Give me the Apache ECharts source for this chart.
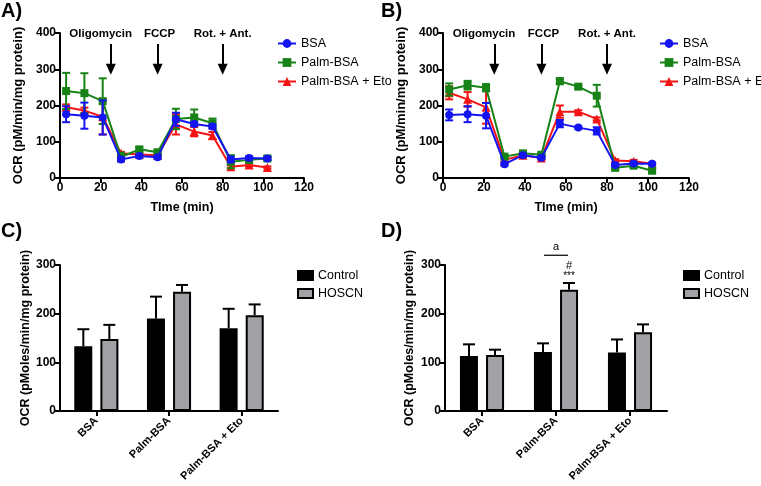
<!DOCTYPE html>
<html><head><meta charset="utf-8">
<script src="https://cdn.jsdelivr.net/npm/echarts@6/dist/echarts.min.js"></script>
<style>html,body{margin:0;padding:0;background:#fff}#c{width:761px;height:486px}</style>
</head><body><div id="c"></div>
<script>
// ---------- DATA ----------
const times = [3, 12, 21, 30, 39, 48, 57, 66, 75, 84, 93, 102];
const seriesNames = ['BSA', 'Palm-BSA', 'Palm-BSA + Eto'];
// Panel A
const aBSA = [176, 172, 167, 51, 61, 57, 162, 149, 142, 51, 55, 54];
const aBSAerr = [22, 36, 47, 5, 4, 4, 18, 6, 6, 8, 5, 4];
const aPalm = [240, 234, 212, 58, 79, 71, 163, 167, 151, 45, 50, 54];
const aPalmErr = [50, 55, 63, 12, 6, 5, 28, 22, 13, 18, 8, 5];
const aEto = [195, 186, 169, 68, 65, 63, 148, 128, 117, 31, 36, 29];
const aEtoErr = [8, 8, 49, 4, 4, 3, 28, 13, 10, 4, 4, 3];
// Panel B
const bBSA = [174, 176, 172, 38, 63, 56, 150, 139, 130, 36, 40, 39];
const bBSAerr = [15, 22, 35, 4, 4, 4, 10, 3, 10, 4, 3, 3];
const bPalm = [244, 256, 249, 59, 68, 64, 267, 252, 227, 28, 34, 20];
const bPalmErr = [17, 12, 10, 4, 3, 3, 8, 4, 30, 4, 4, 4];
const bEto = [235, 217, 195, 50, 63, 55, 183, 183, 163, 48, 46, 39];
const bEtoErr = [18, 20, 45, 4, 4, 4, 17, 4, 4, 4, 4, 3];
// Injections
const injectionNames = ['Oligomycin', 'FCCP', 'Rot. + Ant.'];
const injectionTimes = [25, 48, 80];
const injectionLabelX = [20, 49, 80];
// Bar panels
const barCategories = ['BSA', 'Palm-BSA', 'Palm-BSA + Eto'];
const barNames = ['Control', 'HOSCN'];
const cControl = [133, 190, 170];
const cControlErr = [35, 45, 40];
const cHOSCN = [148, 245, 197];
const cHOSCNErr = [29, 14, 22];
const dControl = [113, 121, 120];
const dControlErr = [24, 18, 27];
const dHOSCN = [115, 249, 162];
const dHOSCNErr = [11, 14, 16];

// ---------- STYLE ----------
const FONT = 'Liberation Sans, Arial, sans-serif';
const colors = ['#1414f0', '#178317', '#f51414'];
const symbols = ['circle', 'rect', 'triangle'];
const BAR_W = 18, BAR_OFF = 13;

function axisCommon() {
  return {
    axisLine: { show: true, lineStyle: { color: '#000', width: 2 } },
    axisTick: { show: true, length: 5, lineStyle: { color: '#000', width: 2 } },
    axisLabel: { color: '#000', fontSize: 12, fontWeight: 'bold', fontFamily: FONT, margin: 4 },
    splitLine: { show: false },
    nameTextStyle: { color: '#000', fontSize: 12.5, fontWeight: 'bold', fontFamily: FONT }
  };
}

function errSeries(idx, xs, means, errs, color, z, offset, capOnlyUp) {
  return {
    type: 'custom', xAxisIndex: idx, yAxisIndex: idx, z: z, silent: true,
    data: means.map((m, i) => [xs[i], m, errs[i]]),
    renderItem: function (params, api) {
      const x = api.value(0), y = api.value(1), e = api.value(2);
      const hi = api.coord([x, y + e]);
      const lo = api.coord([x, capOnlyUp ? y : y - e]);
      const px = hi[0] + (offset || 0);
      const cw = capOnlyUp ? 6 : 4;
      const st = { stroke: color, lineWidth: 2 };
      const ch = [
        { type: 'line', shape: { x1: px, y1: hi[1], x2: px, y2: lo[1] }, style: st },
        { type: 'line', shape: { x1: px - cw, y1: hi[1], x2: px + cw, y2: hi[1] }, style: st }
      ];
      if (!capOnlyUp) ch.push({ type: 'line', shape: { x1: px - cw, y1: lo[1], x2: px + cw, y2: lo[1] }, style: st });
      return { type: 'group', children: ch };
    }
  };
}

function lineSeries(idx, name, vals, k, z) {
  return {
    type: 'line', name: name, xAxisIndex: idx, yAxisIndex: idx, z: z,
    data: times.map((t, i) => [t, vals[i]]),
    symbol: symbols[k], symbolSize: k === 2 ? 9 : 8,
    lineStyle: { color: colors[k], width: 2 },
    itemStyle: { color: colors[k] },
    animation: false
  };
}

function injSeries(idx, labelX) {
  return {
    type: 'line', xAxisIndex: idx, yAxisIndex: idx, data: [], silent: true,
    markLine: {
      silent: true, animation: false, symbol: ['none', 'triangle'], symbolSize: [10, 11],
      lineStyle: { color: '#000', width: 2, type: 'solid' },
      label: { show: false },
      data: injectionTimes.map(t => [{ coord: [t, 370] }, { coord: [t, 300] }])
    },
    markPoint: {
      silent: true, animation: false, symbol: 'circle', symbolSize: 0,
      label: { show: true, position: 'inside', color: '#000', fontSize: 11.5, fontWeight: 'bold', fontFamily: FONT, formatter: p => p.name },
      data: injectionNames.map((n, i) => ({ name: n, coord: [labelX[i], 398] }))
    }
  };
}

function barSeries(idx, name, vals, fill, z) {
  return {
    type: 'bar', name: name, xAxisIndex: idx, yAxisIndex: idx, z: z, data: vals,
    barWidth: BAR_W, barGap: '45%',
    itemStyle: { color: fill, borderColor: '#000', borderWidth: 2 },
    animation: false
  };
}

const grids = [
  { left: 60, right: 457, top: 33, bottom: 308 },
  { left: 443, right: 72, top: 33, bottom: 308 },
  { left: 60, right: 483, top: 265, bottom: 75 },
  { left: 445, right: 94, top: 265, bottom: 75 }
];

const xAxes = [0, 1].map(i => Object.assign(axisCommon(), {
  gridIndex: i, type: 'value', min: 0, max: 120, interval: 20,
  name: 'TIme (min)', nameLocation: 'middle', nameGap: 23,
  nameTextStyle: { color: '#000', fontSize: 12.5, fontWeight: 'bold', fontFamily: FONT }
})).concat([2, 3].map(i => Object.assign(axisCommon(), {
  gridIndex: i, type: 'category', data: barCategories,
  axisTick: { show: true, alignWithLabel: true, length: 5, lineStyle: { color: '#000', width: 2 } },
  axisLabel: { color: '#000', fontSize: 11, fontWeight: 'bold', fontFamily: FONT, rotate: 45, margin: 8, interval: 0 }
})));

const yAxes = [0, 1].map(i => Object.assign(axisCommon(), {
  gridIndex: i, type: 'value', min: 0, max: 400, interval: 100,
  name: 'OCR (pM/min/mg protein)', nameLocation: 'middle', nameGap: 35,
  nameTextStyle: { color: '#000', fontSize: 13, fontWeight: 'bold', fontFamily: FONT }
})).concat([2, 3].map(i => Object.assign(axisCommon(), {
  gridIndex: i, type: 'value', min: 0, max: 300, interval: 100,
  name: 'OCR (pMoles/min/mg protein)', nameLocation: 'middle', nameGap: i === 2 ? 27 : 29
})));

const series = [];
[[aBSA, aBSAerr, aPalm, aPalmErr, aEto, aEtoErr], [bBSA, bBSAerr, bPalm, bPalmErr, bEto, bEtoErr]].forEach((d, idx) => {
  const zs = [6, 5, 4];
  [2, 1, 0].forEach(k => {
    series.push(errSeries(idx, times, d[k * 2], d[k * 2 + 1], colors[k], zs[k], 0, false));
    series.push(lineSeries(idx, seriesNames[k], d[k * 2], k, zs[k]));
  });
  series.push(injSeries(idx, injectionLabelX));
});

[[cControl, cControlErr, cHOSCN, cHOSCNErr], [dControl, dControlErr, dHOSCN, dHOSCNErr]].forEach((d, j) => {
  const idx = j + 2;
  series.push(barSeries(idx, barNames[0], d[0], '#000000', 3));
  series.push(barSeries(idx, barNames[1], d[2], '#a1a1a6', 3));
  series.push(errSeries(idx, [0, 1, 2], d[0], d[1], '#000', 2, -BAR_OFF, true));
  series.push(errSeries(idx, [0, 1, 2], d[2], d[3], '#000', 2, BAR_OFF, true));
});

// significance annotations in panel D
series.push({
  type: 'custom', xAxisIndex: 3, yAxisIndex: 3, z: 10, silent: true, clip: false,
  data: [[1, 0]],
  renderItem: function (params, api) {
    const c = api.value(0);
    const pa = api.coord([c, 320]);
    const pA = api.coord([c, 337]);
    const pH = api.coord([c, 297]);
    const pS = api.coord([c, 281]);
    const ts = { fill: '#000', fontFamily: FONT, align: 'center', verticalAlign: 'middle' };
    return { type: 'group', children: [
      { type: 'line', shape: { x1: pa[0] - 12, y1: pa[1], x2: pa[0] + 12, y2: pa[1] }, style: { stroke: '#000', lineWidth: 1.2 } },
      { type: 'text', style: Object.assign({ text: 'a', x: pA[0], y: pA[1], fontSize: 11 }, ts) },
      { type: 'text', style: Object.assign({ text: '#', x: pH[0] + BAR_OFF, y: pH[1], fontSize: 11 }, ts) },
      { type: 'text', style: Object.assign({ text: '***', x: pS[0] + BAR_OFF, y: pS[1] + 2, fontSize: 10 }, ts) }
    ] };
  }
});

const legendText = { color: '#000', fontSize: 12.5, fontFamily: FONT };
const option = {
  animation: false,
  backgroundColor: '#fff',
  title: [
    { text: 'A)', left: 1, top: 1 },
    { text: 'B)', left: 381, top: 1 },
    { text: 'C)', left: 1, top: 221 },
    { text: 'D)', left: 381, top: 221 }
  ].map(t => Object.assign(t, { textStyle: { color: '#000', fontSize: 20, fontWeight: 'bold', fontFamily: FONT }, padding: 0 })),
  legend: [
    { left: 272, top: 32, orient: 'vertical', itemGap: 6, itemWidth: 18, itemHeight: 11, data: seriesNames, textStyle: legendText, selectedMode: false },
    { left: 654, top: 32, orient: 'vertical', itemGap: 6, itemWidth: 18, itemHeight: 11, data: seriesNames, textStyle: legendText, selectedMode: false },
    { left: 292, top: 264, orient: 'vertical', itemGap: 5, itemWidth: 15, itemHeight: 9, data: barNames, textStyle: legendText, selectedMode: false, icon: 'rect' },
    { left: 678, top: 264, orient: 'vertical', itemGap: 5, itemWidth: 15, itemHeight: 9, data: barNames, textStyle: legendText, selectedMode: false, icon: 'rect' }
  ],
  grid: grids,
  xAxis: xAxes,
  yAxis: yAxes,
  series: series
};
const chart = echarts.init(document.getElementById('c'), null, { renderer: 'canvas' });
chart.setOption(option);
</script></body></html>
